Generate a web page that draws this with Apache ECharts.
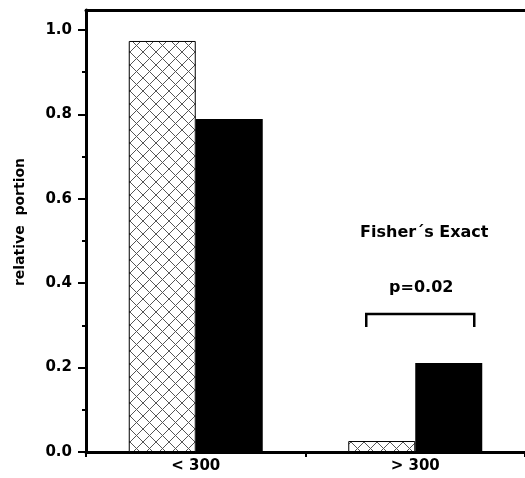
<!DOCTYPE html>
<html>
<head>
<meta charset="utf-8">
<script src="https://cdn.jsdelivr.net/npm/echarts@6/dist/echarts.min.js"></script>
<style>html,body{margin:0;padding:0;background:#fff;}#c{width:525px;height:478px;}</style>
</head>
<body>
<div id="c"></div>
<script>
const categories = ['< 300', '> 300'];
const hatchedValues = [0.974, 0.026];
const blackValues = [0.789, 0.211];
const yTicks = [0.0, 0.2, 0.4, 0.6, 0.8, 1.0];
const yTitle = 'relative  portion';
const testTitle = 'Fisher´s Exact';
const pLabel = 'p=0.02';

function hatch() {
  const s = 13;
  const c = document.createElement('canvas');
  c.width = s; c.height = s;
  const g = c.getContext('2d');
  g.fillStyle = '#fff'; g.fillRect(0, 0, s, s);
  g.strokeStyle = '#555'; g.lineWidth = 1;
  g.beginPath();
  for (let k = -1; k <= 1; k++) {
    g.moveTo(k * s, 0); g.lineTo(k * s + s, s);
    g.moveTo(k * s + s, 0); g.lineTo(k * s, s);
  }
  g.stroke();
  return c;
}

const chart = echarts.init(document.getElementById('c'));
const font = '"DejaVu Sans", sans-serif';
chart.setOption({
  animation: false,
  grid: [
    { left: 86, right: -2, top: 30, bottom: 26 },
    { left: 86, right: -2, top: 10, bottom: 26 }
  ],
  xAxis: [
    {
      type: 'category', data: categories, gridIndex: 0, position: 'bottom',
      axisLine: { lineStyle: { color: '#000', width: 3 } },
      axisTick: { show: true, length: 5, lineStyle: { color: '#000', width: 2 } },
      axisLabel: { color: '#000', fontFamily: font, fontWeight: 'bold', fontSize: 15, margin: 7 }
    },
    {
      type: 'value', gridIndex: 1, position: 'top', min: 0, max: 1,
      axisLine: { show: true, onZero: false, lineStyle: { color: '#000', width: 3 } },
      axisTick: { show: false }, axisLabel: { show: false }, splitLine: { show: false }
    }
  ],
  yAxis: [
    {
      type: 'value', gridIndex: 0, position: 'left', min: yTicks[0], max: yTicks[yTicks.length - 1], interval: 0.2,
      axisLine: { show: true, onZero: false, lineStyle: { color: '#000', width: 3 } },
      axisTick: { show: true, length: 8, lineStyle: { color: '#000', width: 2 } },
      minorTick: { show: true, splitNumber: 2, length: 4, lineStyle: { color: '#000', width: 2 } },
      axisLabel: { color: '#000', fontFamily: font, fontWeight: 'bold', fontSize: 15, margin: 14,
        formatter: v => v.toFixed(1) },
      splitLine: { show: false }
    },
    {
      type: 'value', gridIndex: 1, position: 'left', min: 0, max: 1,
      axisLine: { show: true, onZero: false, lineStyle: { color: '#000', width: 3 } },
      axisTick: { show: false }, axisLabel: { show: false }, splitLine: { show: false }
    }
  ],
  series: [
    {
      type: 'bar', data: hatchedValues, barWidth: 67, barGap: '0%',
      itemStyle: { color: { image: hatch(), repeat: 'repeat' }, borderColor: '#000', borderWidth: 1 }
    },
    {
      type: 'bar', data: blackValues, barWidth: 67, barGap: '0%',
      itemStyle: { color: '#000' }
    }
  ]
});

// annotation: axis title, test name, p value and bracket over the '> 300' group
const cx = chart.convertToPixel({ xAxisIndex: 0 }, 1);
const x1 = cx - 49, x2 = cx + 59;
chart.setOption({
  graphic: [
    { type: 'text', x: 20, y: 222, rotation: Math.PI / 2, style: { text: yTitle, fill: '#000', font: 'bold 14px ' + font, align: 'center', verticalAlign: 'middle' } },
    { type: 'text', x: cx + 9, y: 233, style: { text: testTitle, fill: '#000', font: 'bold 16px ' + font, align: 'center', verticalAlign: 'middle' } },
    { type: 'text', x: cx + 6, y: 288, style: { text: pLabel, fill: '#000', font: 'bold 16px ' + font, align: 'center', verticalAlign: 'middle' } },
    { type: 'polyline', shape: { points: [[x1, 327], [x1, 314], [x2, 314], [x2, 327]] }, style: { stroke: '#000', lineWidth: 2.5, fill: null } }
  ]
});
</script>
</body>
</html>
